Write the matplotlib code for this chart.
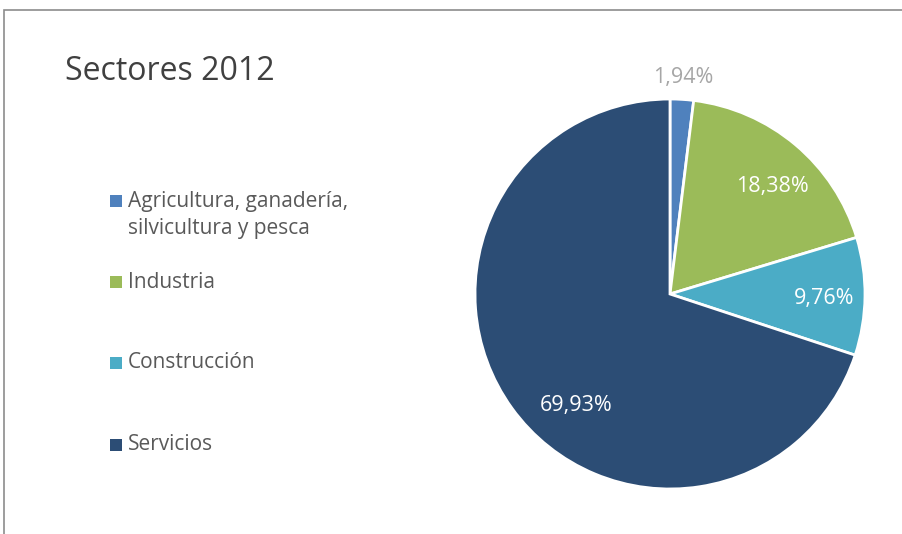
import numpy as np
import matplotlib.pyplot as plt
from matplotlib.patches import Rectangle

plt.rcParams['font.family'] = ['Open Sans', 'DejaVu Sans']

sectores = ["Agricultura, ganadería,\nsilvicultura y pesca", "Industria",
            "Construcción", "Servicios"]
valores = [1.94, 18.38, 9.76, 69.93]
colores = ["#4F81BD", "#9BBB59", "#4BACC6", "#2C4D75"]

# label placement: (radius fraction, angle shift in degrees)
lab_pos = [(1.11, 0), (0.76, -3.5), (0.79, -1), (0.75, 14)]
lab_col = ["#A6A6A6", "white", "white", "white"]

W, H = 903, 534
fig = plt.figure(figsize=(W / 100, H / 100), dpi=100)

# outer chart frame
fig.patches.append(Rectangle((4 / W, -0.1), 1.2, (H - 10) / H + 0.1,
                             transform=fig.transFigure, fill=False,
                             edgecolor="#8C8C8C", linewidth=1.2))

fig.text(65 / W, 1 - 71 / H, "Sectores 2012", fontsize=23, color="#404040",
         va="center", ha="left")

# pie axes
cx, cy, R = 670, 294, 195
ax = fig.add_axes([(cx - R) / W, (H - cy - R) / H, 2 * R / W, 2 * R / H])
wedges, _ = ax.pie(valores, colors=colores, startangle=90, counterclock=False,
                   radius=1, wedgeprops=dict(edgecolor="white", linewidth=2))
ax.set_xlim(-1, 1)
ax.set_ylim(-1, 1)
ax.axis("off")

for w, v, (d, da), c in zip(wedges, valores, lab_pos, lab_col):
    ang = np.deg2rad((w.theta1 + w.theta2) / 2 + da)
    txt = ("%.2f%%" % v).replace(".", ",")
    ax.text(d * np.cos(ang), d * np.sin(ang), txt, ha="center", va="center",
            fontsize=15.5, color=c, clip_on=False)

# legend drawn by hand to keep the wide spacing
leg_y = [201, 282, 363, 445]
for name, col, y in zip(sectores, colores, leg_y):
    fig.patches.append(Rectangle((110 / W, 1 - (y + 6) / H), 12 / W, 12 / H,
                                 transform=fig.transFigure, facecolor=col,
                                 edgecolor="none"))
    n = name.count("\n")
    fig.text(128 / W, 1 - (y + 14 * n) / H, name, fontsize=15,
             color="#595959", va="center", ha="left", linespacing=1.37)

fig.savefig("out.png", dpi=100)
